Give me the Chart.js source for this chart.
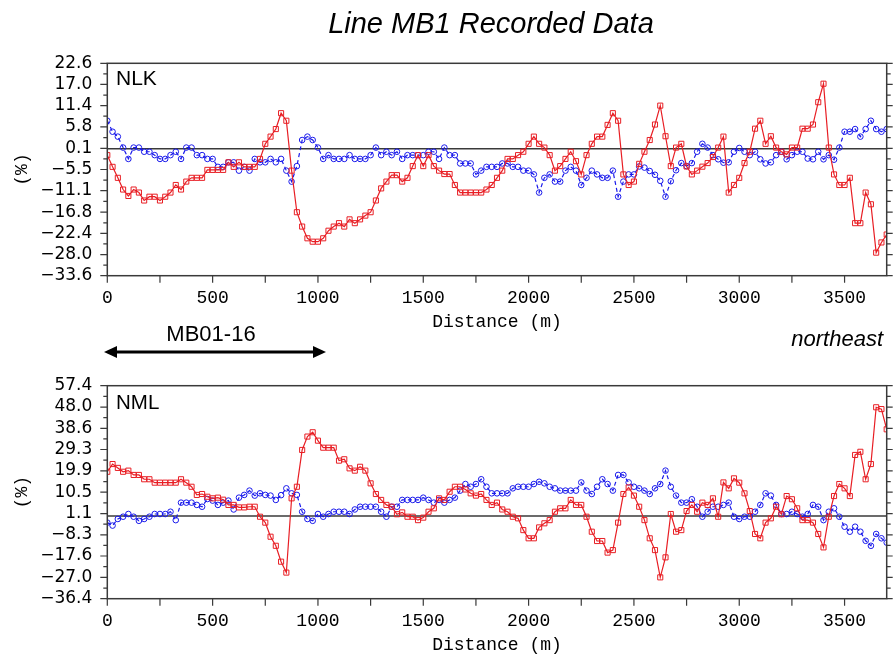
<!DOCTYPE html>
<html><head><meta charset="utf-8">
<script src="https://cdn.jsdelivr.net/npm/chart.js@4.4.1/dist/chart.umd.min.js"></script>
<style>
html,body{margin:0;padding:0;background:#fff;}
body{width:893px;height:658px;position:relative;overflow:hidden;}
.wrap{position:absolute;left:0;width:893px;}
svg{position:absolute;left:0;top:0;pointer-events:none;}
</style></head><body>
<div class="wrap" style="top:0;height:335px"><canvas id="c1" width="893" height="335"></canvas></div>
<div class="wrap" style="top:340px;height:318px"><canvas id="c2" width="893" height="318"></canvas></div>
<svg width="893" height="658">
  <text x="491" y="33" text-anchor="middle" font-family="Liberation Sans" font-style="italic" font-size="29">Line MB1 Recorded Data</text>
  <text x="116" y="85" font-family="Liberation Sans" font-size="21">NLK</text>
  <text x="116" y="409" font-family="Liberation Sans" font-size="20.5">NML</text>
  <text x="211" y="341" text-anchor="middle" font-family="Liberation Sans" font-size="22">MB01-16</text>
  <text x="883" y="346" text-anchor="end" font-family="Liberation Sans" font-style="italic" font-size="22">northeast</text>
  <line x1="112" y1="352" x2="318" y2="352" stroke="#000" stroke-width="3"/>
  <polygon points="104,352 117,346 117,358" fill="#000"/>
  <polygon points="326,352 313,346 313,358" fill="#000"/>
</svg>
<script>
// ---- data ----
const distance = [0,25,50,75,100,125,150,175,200,225,250,275,300,325,350,375,400,425,450,475,500,525,550,575,600,625,650,675,700,725,750,775,800,825,850,875,900,925,950,975,1000,1025,1050,1075,1100,1125,1150,1175,1200,1225,1250,1275,1300,1325,1350,1375,1400,1425,1450,1475,1500,1525,1550,1575,1600,1625,1650,1675,1700,1725,1750,1775,1800,1825,1850,1875,1900,1925,1950,1975,2000,2025,2050,2075,2100,2125,2150,2175,2200,2225,2250,2275,2300,2325,2350,2375,2400,2425,2450,2475,2500,2525,2550,2575,2600,2625,2650,2675,2700,2725,2750,2775,2800,2825,2850,2875,2900,2925,2950,2975,3000,3025,3050,3075,3100,3125,3150,3175,3200,3225,3250,3275,3300,3325,3350,3375,3400,3425,3450,3475,3500,3525,3550,3575,3600,3625,3650,3675,3700];

const nlkRed = [-1.7,-4.8,-7.7,-10.8,-12.5,-10.8,-11.6,-13.7,-12.7,-12.7,
-13.7,-12.7,-11.6,-9.6,-10.8,-8.7,-7.7,-7.7,-7.7,-5.6,
-5.6,-5.6,-5.6,-3.6,-4.8,-3.6,-4.8,-4.8,-4.8,-2.7,
1.3,3.2,5.2,9.4,7.4,-5.8,-16.8,-20.6,-23.7,-24.6,
-24.6,-23.7,-21.7,-20.6,-19.7,-20.6,-18.7,-19.7,-18.7,-17.7,
-16.8,-13.7,-10.5,-8.7,-7.0,-7.0,-8.7,-7.7,-4.6,-1.7,
-4.6,-1.7,-4.6,-5.8,-6.7,-6.7,-9.6,-11.6,-11.6,-11.6,
-11.6,-11.6,-10.8,-9.6,-7.7,-5.8,-2.7,-2.7,-1.7,-0.8,
1.3,3.2,1.3,0.3,-1.7,-5.8,-4.6,-2.7,-0.8,-3.3,
-6.8,-1.7,1.3,3.2,3.2,6.3,9.4,7.4,-6.8,-9.6,
-8.7,-4.0,-0.8,2.3,6.4,11.4,3.3,-4.6,0.3,1.3,
-4.7,-6.8,-5.8,-4.75,-3.8,-2.2,0.3,3.2,-11.6,-9.6,
-7.7,-3.8,-0.8,5.3,7.4,1.3,3.3,0.3,-0.8,-1.5,
0.3,0.3,5.3,5.3,6.4,12.3,17.2,0.3,-6.8,-9.6,
-9.6,-7.7,-19.7,-19.7,-11.6,-14.7,-27.5,-24.8,-22.7];

const nlkBlue = [7.4,4.5,3.2,0.3,-2.7,0.3,0.3,-0.8,-0.8,-1.7,
-2.7,-2.7,-1.7,-0.8,-2.7,0.3,0.3,-1.7,-1.7,-2.7,
-2.7,-4.8,-4.8,-3.6,-3.6,-5.8,-4.8,-5.8,-2.7,-3.6,
-3.6,-2.7,-3.6,-2.7,-5.8,-8.7,-4.6,2.3,3.2,2.3,
0.3,-2.7,-1.7,-2.7,-2.7,-2.7,-1.7,-2.7,-2.7,-2.7,
-1.7,0.3,-1.7,-0.8,-1.7,-0.8,-2.7,-1.7,-1.7,-1.7,
-1.7,-0.8,-0.8,-2.7,0.3,-1.7,-1.7,-3.9,-3.9,-3.9,
-6.8,-5.8,-4.8,-4.8,-4.8,-3.9,-3.9,-4.8,-4.8,-5.8,
-5.8,-6.8,-11.6,-7.7,-6.8,-8.7,-8.7,-5.8,-4.8,-5.8,
-9.6,-7.7,-5.8,-6.8,-7.7,-7.7,-5.8,-12.7,-8.7,-6.8,
-6.8,-4.7,-5.0,-5.9,-6.9,-8.5,-12.7,-8.6,-5.7,-3.8,
-4.6,-3.8,-0.8,1.3,0.3,-1.7,-2.8,-3.7,-3.6,-0.8,
0.2,-0.8,-1.7,-0.8,-2.8,-3.9,-3.6,-1.7,-0.8,-2.8,
-1.7,-0.8,-0.8,-2.6,-2.8,-0.8,-2.8,-1.7,-2.9,0.3,
4.5,4.5,5.2,3.2,5.2,7.4,5.2,4.5,5.2];

const nmlRed = [19.5,22.9,21.2,19.5,20.0,18.1,18.1,16.2,16.2,14.7,
14.7,14.7,14.7,14.7,16.2,14.7,12.9,9.3,9.7,8.5,
7.8,8.1,7.2,4.9,4.9,3.8,3.8,4.1,4.1,-0.3,
-2.9,-9.1,-13.1,-20.1,-24.9,7.8,12.9,29.1,35.0,36.9,
33.2,30.1,30.1,30.1,24.4,25.0,21.0,20.0,21.7,20.0,
14.4,9.7,7.1,4.9,4.1,0.8,1.6,-0.3,-0.3,-1.8,
-0.7,1.9,3.4,7.8,7.1,10.7,12.9,12.9,11.7,10.0,
9.0,9.7,7.1,4.9,5.9,2.9,1.9,-0.3,-1.0,-6.2,
-9.8,-9.8,-5.0,-3.2,-1.8,1.9,3.4,3.4,7.1,4.9,
4.9,-0.3,-6.9,-11.0,-11.0,-16.1,-15.0,-2.9,9.7,12.6,
9.0,4.1,-1.8,-9.8,-15.0,-27.0,-18.2,0.9,-6.9,-6.2,
2.2,4.9,1.9,5.9,4.9,7.8,-0.3,14.8,12.2,16.6,
14.7,10.0,2.2,-7.9,-9.8,-2.9,-1.0,4.1,0.8,8.8,
7.4,3.4,-1.8,-1.8,-2.9,-7.9,-13.8,-0.3,8.8,14.1,
12.2,8.8,26.9,28.3,16.2,22.9,47.9,47.1,38.2];

const nmlBlue = [-2.9,-4.2,-1.3,-0.3,0.9,-0.3,-2.1,-1.3,-0.3,0.9,
0.9,0.9,1.9,-1.8,5.9,5.9,5.9,4.9,4.1,7.5,
6.8,4.9,5.9,6.8,2.9,8.1,9.3,11.2,9.0,10.0,
9.3,9.0,7.1,9.2,12.2,10.0,9.3,1.9,-1.3,-2.1,
0.9,-0.3,0.9,1.9,1.9,1.9,0.9,2.9,4.1,4.1,
4.1,4.1,1.9,-0.3,4.1,4.1,7.1,7.1,7.1,7.1,
8.1,7.1,5.9,7.1,5.9,7.1,8.1,11.2,14.1,12.9,
14.1,16.2,12.9,10.0,10.0,10.0,10.0,12.2,12.9,12.9,
12.9,14.1,15.1,14.4,12.9,12.2,11.2,11.2,11.2,11.2,
14.8,11.2,9.7,12.9,16.2,14.1,11.2,18.1,18.1,14.8,
12.9,12.2,11.2,9.7,12.2,14.1,20.0,12.9,9.0,5.9,
5.9,7.4,4.1,-0.3,1.9,4.1,4.1,4.9,5.9,-0.3,
-1.3,-0.3,-0.3,1.9,4.9,10.0,9.0,4.9,0.9,0.9,
1.9,0.9,-0.3,0.9,4.9,4.1,-1.8,1.9,3.4,-0.3,
-4.7,-6.9,-4.7,-6.9,-10.9,-13.1,-7.9,-9.8,-11.7];

const nlkYTicks = ['22.6','17.0','11.4','5.8','0.1','\u22125.5','\u221211.1','\u221216.8','\u221222.4','\u221228.0','\u221233.6'];
const nmlYTicks = ['57.4','48.0','38.6','29.3','19.9','10.5','1.1','\u22128.3','\u221217.6','\u221227.0','\u221236.4'];
const xTickLabels = ['0','500','1000','1500','2000','2500','3000','3500'];
const xMax = 3700;

// ---- rendering ----
const num = s => parseFloat(s.replace('\u2212','-'));
const AX = '#3a3a3a';

const deco = {
  id: 'deco',
  beforeDatasetsDraw(chart) {
    const {ctx, chartArea: a, scales: {y}} = chart;
    const y0 = y.getPixelForValue(0);
    ctx.save();
    ctx.strokeStyle = AX; ctx.lineWidth = 1.5;
    ctx.beginPath(); ctx.moveTo(a.left, y0); ctx.lineTo(a.right, y0); ctx.stroke();
    ctx.restore();
  },
  afterDatasetsDraw(chart) {
    const {ctx, chartArea: a, scales: {x, y}} = chart;
    const yv = chart.options.plugins.deco.yValues;
    const xv = xTickLabels.map(Number);
    ctx.save();
    ctx.strokeStyle = AX; ctx.lineWidth = 1.5;
    ctx.strokeRect(a.left, a.top, a.right - a.left, a.bottom - a.top);
    ctx.lineWidth = 1.2;
    ctx.beginPath();
    yv.forEach((v, i) => {
      const p = y.getPixelForValue(v);
      ctx.moveTo(a.left - 7, p); ctx.lineTo(a.left, p);
      ctx.moveTo(a.right, p); ctx.lineTo(a.right + 6, p);
      if (i < yv.length - 1) {
        const q = y.getPixelForValue((v + yv[i + 1]) / 2);
        ctx.moveTo(a.left - 4, q); ctx.lineTo(a.left, q);
        ctx.moveTo(a.right, q); ctx.lineTo(a.right + 4, q);
      }
    });
    xv.forEach((v, i) => {
      const p = x.getPixelForValue(v);
      ctx.moveTo(p, a.bottom); ctx.lineTo(p, a.bottom + 7);
      if (i < xv.length - 1) {
        const q = x.getPixelForValue((v + xv[i + 1]) / 2);
        ctx.moveTo(q, a.bottom); ctx.lineTo(q, a.bottom + 7);
      }
    });
    ctx.stroke();
    ctx.restore();
  }
};

function makeChart(id, red, blue, yLabels, padTop) {
  const yValues = yLabels.map(num);
  const yMax = Math.max(...yValues), yMin = Math.min(...yValues);
  return new Chart(document.getElementById(id), {
    type: 'line',
    data: {
      datasets: [
        {data: distance.map((d, i) => ({x: d, y: red[i]})),
         borderColor: 'rgb(232,30,36)', borderWidth: 1.2,
         pointStyle: 'rect', pointRadius: 3.6, pointBorderWidth: 1,
         pointBorderColor: 'rgb(232,30,36)', pointBackgroundColor: 'rgba(0,0,0,0)', tension: 0},
        {data: distance.map((d, i) => ({x: d, y: blue[i]})),
         borderColor: 'rgb(25,25,235)', borderWidth: 1.2, borderDash: [4, 3],
         pointStyle: 'circle', pointRadius: 2.8, pointBorderWidth: 1,
         pointBorderColor: 'rgb(25,25,235)', pointBackgroundColor: 'rgba(0,0,0,0)', tension: 0}
      ]
    },
    options: {
      responsive: false, animation: false, devicePixelRatio: 1, events: [],
      layout: {padding: {top: padTop, right: 6.3, left: 0, bottom: 0}},
      plugins: {legend: {display: false}, tooltip: {enabled: false}, deco: {yValues}},
      scales: {
        x: {
          type: 'linear', min: 0, max: xMax,
          afterBuildTicks: s => { s.ticks = xTickLabels.map(l => ({value: Number(l)})); },
          afterFit: s => { s.height = 59.3; },
          grid: {display: false, drawTicks: true, tickLength: 7},
          border: {display: false},
          ticks: {autoSkip: false, maxRotation: 0, padding: 5, color: '#000',
                  font: {family: 'Liberation Mono', size: 18},
                  callback: (v, i) => xTickLabels[i]},
          title: {display: true, text: 'Distance (m)', color: '#000',
                  font: {family: 'Liberation Mono', size: 18}, padding: {top: 0, bottom: 2}}
        },
        y: {
          type: 'linear', min: yMin, max: yMax,
          afterBuildTicks: s => { s.ticks = yValues.map(v => ({value: v})); },
          afterFit: s => { s.width = 107.3; },
          grid: {display: false, drawTicks: true, tickLength: 7},
          border: {display: false},
          ticks: {autoSkip: false, padding: 8, color: '#000',
                  font: {family: 'DejaVu Sans', size: 17},
                  callback: (v, i) => yLabels[i]},
          title: {display: true, text: '(%)', color: '#000',
                  font: {family: 'Liberation Mono', size: 18}, padding: {top: 11, bottom: 0}}
        }
      }
    },
    plugins: [deco]
  });
}

makeChart('c1', nlkRed, nlkBlue, nlkYTicks, 63.3);
makeChart('c2', nmlRed, nmlBlue, nmlYTicks, 45.7);
</script>
</body></html>
